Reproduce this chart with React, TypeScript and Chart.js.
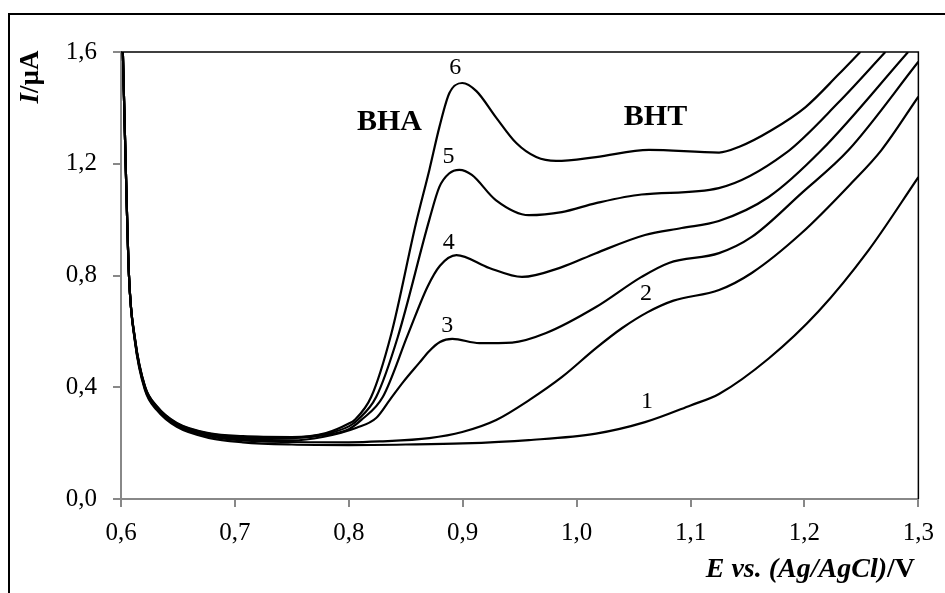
import React, { useEffect, useRef } from 'react';
import { Chart, registerables } from 'chart.js';

Chart.register(...registerables);

const FONT = '"Liberation Serif", "Times New Roman", Times, serif';

// Tick values
const xTickValues = [0.6, 0.7, 0.8, 0.9, 1.0, 1.1, 1.2, 1.3];
const yTickValues = [0.0, 0.4, 0.8, 1.2, 1.6];

// Curve 1
const E1 = [0.6015, 0.6041, 0.607, 0.6123, 0.621, 0.6315, 0.649, 0.678, 0.707, 0.75, 0.8, 0.85, 0.9, 0.958, 1.017, 1.06, 1.1, 1.125, 1.1686, 1.2124, 1.2562, 1.3];
const I1 = [1.62, 1.2, 0.8, 0.562, 0.39, 0.318, 0.258, 0.218, 0.203, 0.195, 0.193, 0.195, 0.199, 0.211, 0.234, 0.275, 0.335, 0.376, 0.503, 0.672, 0.89, 1.152];

// Curve 2
const E2 = [0.6015, 0.6041, 0.607, 0.6123, 0.621, 0.6315, 0.649, 0.678, 0.707, 0.75, 0.8, 0.827, 0.8707, 0.8996, 0.9294, 0.9583, 0.9872, 1.017, 1.04, 1.062, 1.085, 1.125, 1.1537, 1.1975, 1.2413, 1.2676, 1.3];
const I2 = [1.62, 1.2, 0.8, 0.565, 0.395, 0.322, 0.262, 0.224, 0.21, 0.204, 0.203, 0.206, 0.218, 0.24, 0.283, 0.354, 0.437, 0.54, 0.612, 0.668, 0.71, 0.748, 0.809, 0.952, 1.131, 1.249, 1.44];

// Curve 3
const E3 = [0.6015, 0.6041, 0.607, 0.6123, 0.621, 0.6315, 0.649, 0.678, 0.707, 0.75, 0.777, 0.8068, 0.824, 0.836, 0.848, 0.862, 0.8707, 0.88, 0.8909, 0.9145, 0.9434, 0.9732, 1.017, 1.057, 1.081, 1.125, 1.1537, 1.1975, 1.2387, 1.3];
const I3 = [1.62, 1.2, 0.8, 0.568, 0.398, 0.326, 0.266, 0.228, 0.214, 0.21, 0.222, 0.255, 0.29, 0.355, 0.42, 0.488, 0.53, 0.562, 0.573, 0.558, 0.56, 0.594, 0.687, 0.795, 0.845, 0.88, 0.938, 1.095, 1.249, 1.565];

// Curve 4
const E4 = [0.6015, 0.6041, 0.607, 0.6123, 0.621, 0.6315, 0.649, 0.678, 0.707, 0.75, 0.78, 0.8, 0.811, 0.8298, 0.852, 0.869, 0.88, 0.8944, 0.9233, 0.952, 0.987, 1.017, 1.06, 1.0922, 1.1248, 1.1686, 1.215, 1.291];
const I4 = [1.62, 1.2, 0.8, 0.57, 0.4, 0.328, 0.268, 0.231, 0.22, 0.218, 0.229, 0.25, 0.283, 0.365, 0.59, 0.759, 0.835, 0.873, 0.827, 0.795, 0.83, 0.88, 0.945, 0.97, 0.995, 1.081, 1.249, 1.6];

// Curve 5
const E5 = [0.6015, 0.6041, 0.607, 0.6123, 0.621, 0.6315, 0.649, 0.678, 0.707, 0.75, 0.78, 0.8, 0.8077, 0.824, 0.843, 0.8707, 0.8795, 0.888, 0.897, 0.908, 0.929, 0.958, 0.987, 1.017, 1.057, 1.1248, 1.1832, 1.23, 1.271];
const I5 = [1.62, 1.2, 0.8, 0.572, 0.402, 0.33, 0.27, 0.233, 0.222, 0.22, 0.233, 0.26, 0.283, 0.365, 0.58, 1.0, 1.117, 1.165, 1.178, 1.16, 1.07, 1.016, 1.027, 1.059, 1.09, 1.113, 1.237, 1.42, 1.6];

// Curve 6
const E6 = [0.6015, 0.6041, 0.607, 0.6123, 0.621, 0.6315, 0.649, 0.678, 0.707, 0.75, 0.78, 0.8, 0.805, 0.8196, 0.8372, 0.8591, 0.8707, 0.8795, 0.8883, 0.8996, 0.912, 0.929, 0.947, 0.9645, 0.982, 1.017, 1.0635, 1.125, 1.1423, 1.171, 1.201, 1.23, 1.249];
const I6 = [1.62, 1.2, 0.8, 0.574, 0.404, 0.332, 0.272, 0.235, 0.225, 0.222, 0.236, 0.27, 0.283, 0.365, 0.59, 0.99, 1.178, 1.331, 1.453, 1.489, 1.46, 1.367, 1.274, 1.224, 1.21, 1.224, 1.25, 1.24, 1.26, 1.32, 1.403, 1.52, 1.6];

const curveE = [E1, E2, E3, E4, E5, E6];
const curveI = [I1, I2, I3, I4, I5, I6];

// Curve number labels and peak labels (text, E, I)
const labelTexts = ['1', '2', '3', '4', '5', '6'];
const labelE = [1.0617, 1.0608, 0.8865, 0.8878, 0.8874, 0.8935];
const labelI = [0.347, 0.7355, 0.619, 0.916, 1.224, 1.545];
const peakTexts = ['BHA', 'BHT'];
const peakE = [0.8357, 1.0692];
const peakI = [1.348, 1.365];

const fmt = (v: number) => v.toFixed(1).replace('.', ',');

export default function App() {
  const ref = useRef<HTMLCanvasElement | null>(null);

  useEffect(() => {
    if (!ref.current) return;
    const decor = {
      id: 'decor',
      afterDraw(chart: any) {
        const { ctx, chartArea: a, scales } = chart;
        const xs = scales.x;
        const ys = scales.y;
        ctx.save();
        // plot area top/right border
        ctx.strokeStyle = '#000';
        ctx.lineWidth = 1.5;
        ctx.beginPath();
        ctx.moveTo(a.left, a.top);
        ctx.lineTo(a.right, a.top);
        ctx.lineTo(a.right, a.bottom);
        ctx.stroke();

        ctx.fillStyle = '#000';
        ctx.textAlign = 'center';
        ctx.textBaseline = 'middle';
        // curve numbers
        ctx.font = `24px ${FONT}`;
        labelTexts.forEach((t, i) => {
          ctx.fillText(t, xs.getPixelForValue(labelE[i]), ys.getPixelForValue(labelI[i]));
        });
        // BHA / BHT
        ctx.font = `bold 30px ${FONT}`;
        peakTexts.forEach((t, i) => {
          ctx.fillText(t, xs.getPixelForValue(peakE[i]), ys.getPixelForValue(peakI[i]));
        });

        // y axis title
        ctx.save();
        ctx.translate(38, 77);
        ctx.rotate(-Math.PI / 2);
        ctx.textAlign = 'left';
        ctx.textBaseline = 'alphabetic';
        const f1 = `italic bold 27px ${FONT}`;
        const f2 = `bold 27px ${FONT}`;
        ctx.font = f1;
        const w1 = ctx.measureText('I').width;
        ctx.font = f2;
        const w2 = ctx.measureText('/µA').width;
        const start = -(w1 + w2) / 2;
        ctx.font = f1;
        ctx.fillText('I', start, 0);
        ctx.font = f2;
        ctx.fillText('/µA', start + w1, 0);
        ctx.restore();

        // x axis title
        ctx.textAlign = 'left';
        ctx.textBaseline = 'alphabetic';
        const g1 = `italic bold 28px ${FONT}`;
        const g2 = `bold 28px ${FONT}`;
        ctx.font = g1;
        const a1 = ctx.measureText('E vs. (Ag/AgCl)').width;
        ctx.font = g2;
        const a2 = ctx.measureText('/V').width;
        const right = 915;
        ctx.font = g1;
        ctx.fillText('E vs. (Ag/AgCl)', right - a1 - a2, 577);
        ctx.font = g2;
        ctx.fillText('/V', right - a2, 577);
        ctx.restore();
      },
    };

    const chart = new Chart(ref.current, {
      type: 'line',
      data: {
        datasets: curveE.map((es, k) => ({
          label: labelTexts[k],
          data: es.map((e, j) => ({ x: e, y: curveI[k][j] })),
          borderColor: '#000',
          borderWidth: 2.2,
          pointRadius: 0,
          fill: false,
          cubicInterpolationMode: 'monotone' as const,
        })),
      },
      options: {
        animation: false,
        responsive: false,
        devicePixelRatio: 1,
        layout: { padding: { top: 52, right: 25, left: 0, bottom: 0 } },
        plugins: { legend: { display: false }, tooltip: { enabled: false } },
        scales: {
          x: {
            type: 'linear',
            min: 0.6,
            max: 1.3,
            afterBuildTicks: (s: any) => {
              s.ticks = xTickValues.map((v) => ({ value: v }));
            },
            afterFit: (s: any) => {
              s.height = 94;
            },
            ticks: {
              callback: (v: any) => fmt(Number(v)),
              font: { family: FONT, size: 25 },
              color: '#000',
              padding: 11,
              maxRotation: 0,
              autoSkip: false,
            },
            grid: { drawOnChartArea: false, drawTicks: true, tickLength: 8, color: '#888', lineWidth: 2 },
            border: { display: true, color: '#888', width: 2 },
          },
          y: {
            type: 'linear',
            min: 0,
            max: 1.6,
            afterBuildTicks: (s: any) => {
              s.ticks = yTickValues.map((v) => ({ value: v }));
            },
            afterFit: (s: any) => {
              s.width = 121;
            },
            ticks: {
              callback: (v: any) => fmt(Number(v)),
              font: { family: FONT, size: 25 },
              color: '#000',
              padding: 16,
              autoSkip: false,
            },
            grid: { drawOnChartArea: false, drawTicks: true, tickLength: 8, color: '#888', lineWidth: 2 },
            border: { display: true, color: '#888', width: 2 },
          },
        },
      },
      plugins: [decor],
    });
    return () => chart.destroy();
  }, []);

  return (
    <div style={{ position: 'absolute', left: 0, top: 0, width: 945, height: 593, overflow: 'hidden', background: '#fff' }}>
      <div
        style={{
          position: 'absolute',
          left: 8,
          top: 13,
          width: 1200,
          height: 1200,
          border: '2px solid #000',
          boxSizing: 'border-box',
        }}
      />
      <canvas ref={ref} width={945} height={593} style={{ position: 'absolute', left: 0, top: 0, width: 945, height: 593 }} />
    </div>
  );
}
